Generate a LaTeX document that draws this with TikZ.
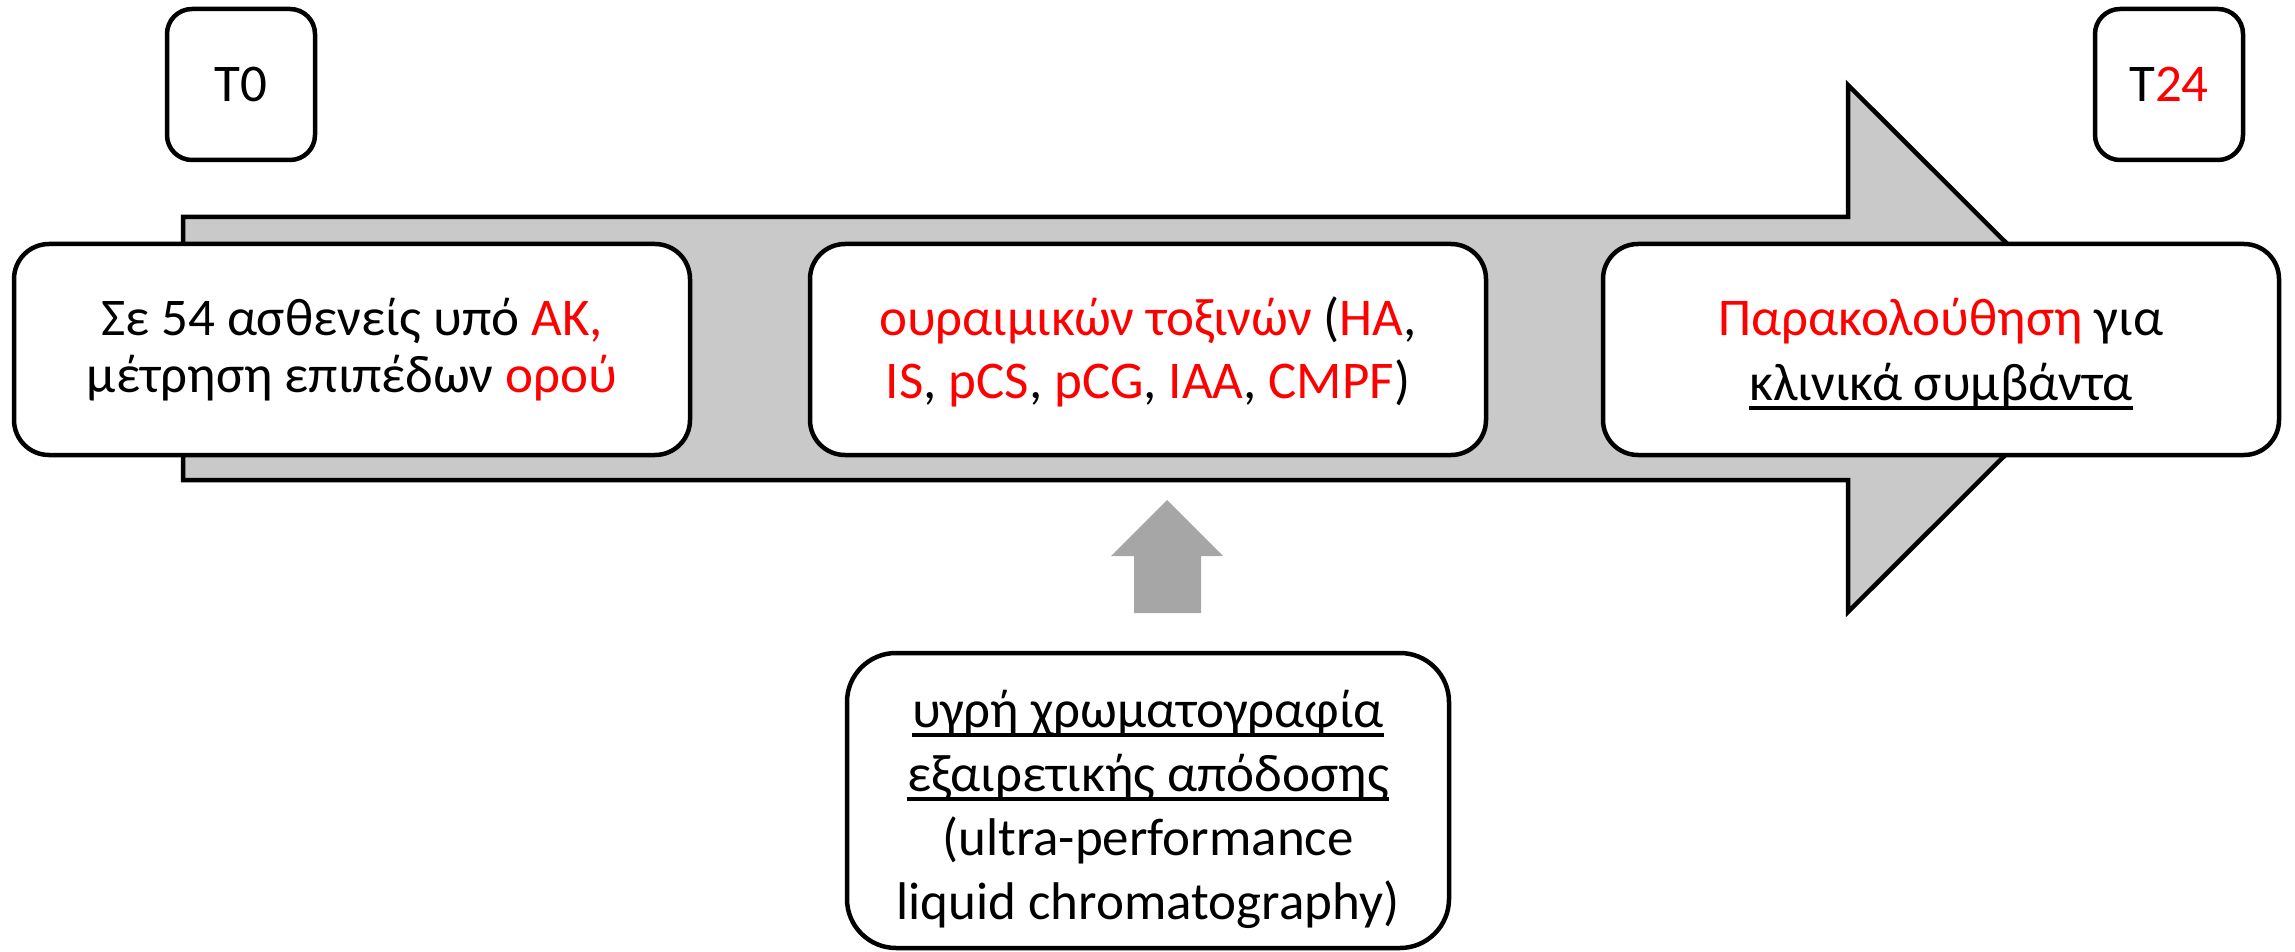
\documentclass[tikz,border=0pt]{standalone}
\usepackage{fontspec}
\setmainfont{Carlito}
\definecolor{accent}{RGB}{255,0,0}
\definecolor{shaftgray}{RGB}{201,201,201}
\definecolor{pushgray}{RGB}{166,166,166}
% red highlight and an underline at a fixed depth below the baseline
\newcommand\rd[1]{\textcolor{accent}{#1}}
\newcommand\ulgr[1]{\leavevmode\setbox0\hbox{#1}\rlap{\rule[-0.19em]{\wd0}{0.075em}}\box0}
% invisible struts fixing the height of a first line and the depth of a last line
\newcommand\hstrut[1]{\rule{0pt}{#1pt}}
\newcommand\dstrut[1]{\rule[-#1pt]{0pt}{#1pt}}

\begin{document}
\begin{tikzpicture}[x=1pt,y=-1pt,
  txt/.style={font=\fontsize{53}{#1}\selectfont, align=center},
  frame/.style={draw, line width=4.5pt, fill=white, inner sep=0pt},
  card/.style={frame, rounded corners=35pt, minimum width=676pt, minimum height=211pt},
  stamp/.style={frame, rounded corners=25pt, minimum width=148pt, minimum height=151pt, txt=58},
  timeline/.style={draw, line width=4.5pt, fill=shaftgray, miter limit=20},
  push/.style={fill=pushgray}]

\useasboundingbox (0,0) rectangle (2295,952);

% main time arrow
\draw[timeline] (183,217) -- (1848,217) -- (1848,85) -- (2112,348.5)
  -- (1848,612) -- (1848,480) -- (183,480) -- cycle;

% time stamps
\node[stamp] (t0)  at (241,84.5)  {T0};
\node[stamp] (t24) at (2169,84.5) {T\rd{24}};

% stages along the time line
\node[card, txt=57] (cohort) at (352,349.5)
  {\hstrut{48}Σε 54 ασθενείς υπό \rd{ΑΚ,}\\μέτρηση επιπέδων \rd{ορού}\dstrut{20}};
\node[card, txt=63] (toxins) at (1148,349.5)
  {\hstrut{54}\rd{ουραιμικών τοξινών} (\rd{HA},\\\rd{IS}, \rd{pCS}, \rd{pCG}, \rd{IAA}, \rd{CMPF})\dstrut{20}};
\node[card, txt=65] (follow) at (1941,349.5)
  {\hstrut{56}\rd{Παρακολούθηση} για\\\ulgr{κλινικά συμβάντα}\dstrut{20}};

% measurement method
\node[frame, rounded corners=49pt, minimum width=602pt, minimum height=295pt, txt=64.3]
  (method) at (1148,800.5)
  {\hstrut{66}\ulgr{υγρή χρωματογραφία}\\\ulgr{εξαιρετικής απόδοσης}\\(ultra-performance\\liquid chromatography)\dstrut{20}};

% block arrow from the method up to the toxin measurement
\coordinate (pushtip) at (1167,500);
\fill[push] (1134,613) -- (1134,556) -- (1111,556) -- (pushtip)
  -- (1223,556) -- (1201,556) -- (1201,613) -- cycle;

\end{tikzpicture}
\end{document}
